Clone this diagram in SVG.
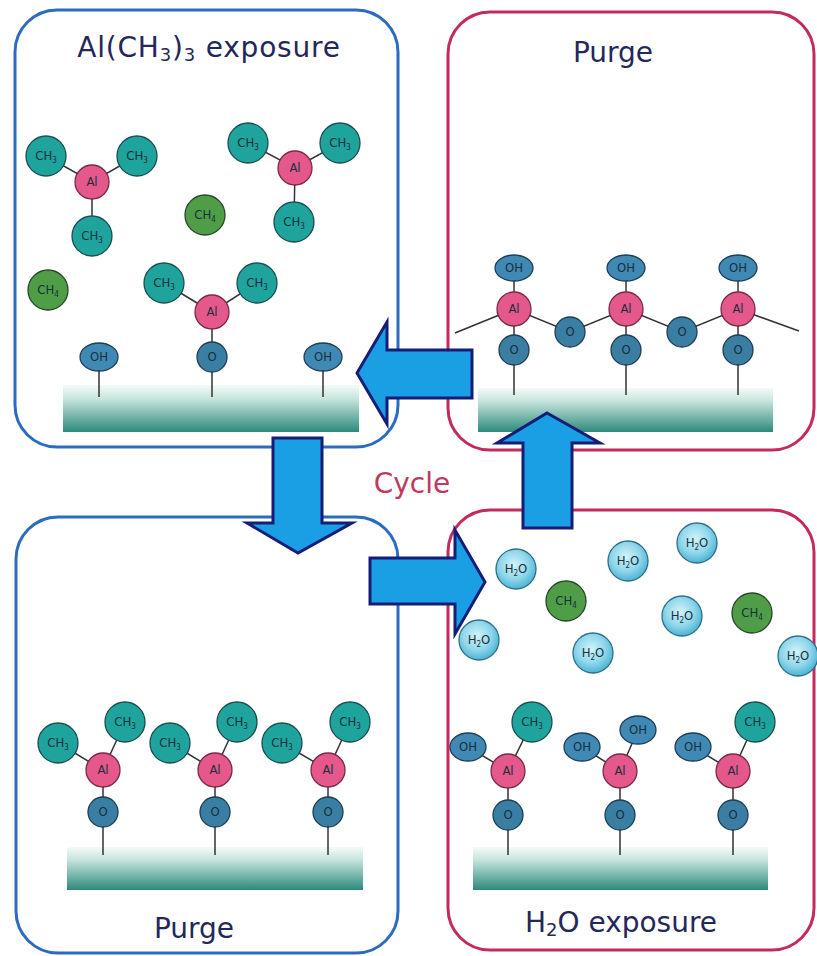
<svg xmlns="http://www.w3.org/2000/svg" width="817" height="956" viewBox="0 0 817 956">
  <defs>
    <linearGradient id="substrate" x1="0" y1="0" x2="0" y2="1">
      <stop offset="0" stop-color="#f4fbf8"/>
      <stop offset="0.3" stop-color="#c6e4dc"/>
      <stop offset="1" stop-color="#2c8a7c"/>
    </linearGradient>
    <radialGradient id="water" cx="0.45" cy="0.4" r="0.6">
      <stop offset="0" stop-color="#d2f4fb"/>
      <stop offset="0.6" stop-color="#8fd6ea"/>
      <stop offset="1" stop-color="#4bb4d2"/>
    </radialGradient>
    <style>
      .panel-b{fill:#fff;stroke:#2c6cc0;stroke-width:3}
      .panel-r{fill:#fff;stroke:#c42a5c;stroke-width:3}
      .title{font-family:"DejaVu Sans",sans-serif;font-size:28px;fill:#25275a;text-anchor:middle}
      .tsub{font-size:18px}
      .cycle{font-family:"DejaVu Sans",sans-serif;font-size:28px;fill:#c03a5e;text-anchor:middle}
      .sub-bar{fill:url(#substrate)}
      .ch3{fill:#1fa39d;stroke:#1b4d50;stroke-width:1.3}
      .al{fill:#e4588c;stroke:#7a2a48;stroke-width:1.3}
      .ch4{fill:#4f9d47;stroke:#26462a;stroke-width:1.3}
      .oh{fill:#4089b4;stroke:#1e3e58;stroke-width:1.3}
      .o{fill:#3a7fa3;stroke:#1e3c52;stroke-width:1.3}
      .h2o{fill:url(#water);stroke:#2c6f88;stroke-width:1.3}
      .bond{stroke:#333;stroke-width:1.5;fill:none}
      .lbl{font-family:"DejaVu Sans Condensed","DejaVu Sans",sans-serif;font-size:13px;fill:#17303c;text-anchor:middle}
      .s{font-size:8px}
      .arrow{fill:#1b9fe4;stroke:#161d78;stroke-width:3;stroke-linejoin:miter}
    </style>
  </defs>

  <!-- panel frames -->
  <g id="panel-tma">
    <rect class="panel-b" x="15" y="10" width="383" height="437" rx="42"/>
    <text class="title" x="209" y="57" letter-spacing="0.8">Al(CH<tspan class="tsub" dy="4">3</tspan><tspan dy="-4">)</tspan><tspan class="tsub" dy="4">3</tspan><tspan dy="-4"> exposure</tspan></text>
    <rect class="sub-bar" x="63" y="385" width="296" height="47"/>
  </g>
  <g id="panel-purge-top">
    <rect class="panel-r" x="448" y="12" width="366" height="438" rx="42"/>
    <text class="title" x="613" y="62">Purge</text>
    <rect class="sub-bar" x="478" y="388" width="295" height="44"/>
  </g>
  <g id="panel-purge-bottom">
    <rect class="panel-b" x="16" y="517" width="382" height="436" rx="42"/>
    <text class="title" x="194" y="938">Purge</text>
    <rect class="sub-bar" x="67" y="847" width="296" height="43"/>
  </g>
  <g id="panel-water">
    <rect class="panel-r" x="448" y="510" width="366" height="440" rx="42"/>
    <text class="title" x="621" y="932">H<tspan class="tsub" dy="4">2</tspan><tspan dy="-4">O exposure</tspan></text>
    <rect class="sub-bar" x="473" y="847" width="295" height="43"/>
  </g>

  <text id="cycle" class="cycle" x="412" y="493">Cycle</text>

  <!-- TMA exposure: gas-phase precursor, CH4 by-product, surface -->
  <g id="tma-gas-1">
    <path class="bond" d="M46,156 L92,182 L137,156 M92,182 L92,236"/>
    <circle class="ch3" cx="46" cy="156" r="20"/><text class="lbl" x="46" y="160">CH<tspan class="s" dy="3">3</tspan></text>
    <circle class="ch3" cx="137" cy="156" r="20"/><text class="lbl" x="137" y="160">CH<tspan class="s" dy="3">3</tspan></text>
    <circle class="ch3" cx="92" cy="236" r="20"/><text class="lbl" x="92" y="240">CH<tspan class="s" dy="3">3</tspan></text>
    <circle class="al" cx="92" cy="182" r="17"/><text class="lbl" x="92" y="186">Al</text>
  </g>
  <g id="tma-gas-2">
    <path class="bond" d="M248,143 L295,168 L340,143 M295,168 L294,222"/>
    <circle class="ch3" cx="248" cy="143" r="20"/><text class="lbl" x="248" y="147">CH<tspan class="s" dy="3">3</tspan></text>
    <circle class="ch3" cx="340" cy="143" r="20"/><text class="lbl" x="340" y="147">CH<tspan class="s" dy="3">3</tspan></text>
    <circle class="ch3" cx="294" cy="222" r="20"/><text class="lbl" x="294" y="226">CH<tspan class="s" dy="3">3</tspan></text>
    <circle class="al" cx="295" cy="168" r="17"/><text class="lbl" x="295" y="172">Al</text>
  </g>
  <g id="tma-ch4-1">
    <circle class="ch4" cx="205" cy="215" r="20"/><text class="lbl" x="205" y="219">CH<tspan class="s" dy="3">4</tspan></text>
  </g>
  <g id="tma-ch4-2">
    <circle class="ch4" cx="48" cy="290" r="20"/><text class="lbl" x="48" y="294">CH<tspan class="s" dy="3">4</tspan></text>
  </g>
  <g id="tma-surface">
    <path class="bond" d="M99,357 L99,397 M212,312 L212,397 M323,357 L323,397 M164,283 L212,312 L257,283"/>
    <ellipse class="oh" cx="99" cy="357" rx="19" ry="14"/><text class="lbl" x="99" y="361">OH</text>
    <circle class="ch3" cx="164" cy="283" r="20"/><text class="lbl" x="164" y="287">CH<tspan class="s" dy="3">3</tspan></text>
    <circle class="ch3" cx="257" cy="283" r="20"/><text class="lbl" x="257" y="287">CH<tspan class="s" dy="3">3</tspan></text>
    <circle class="al" cx="212" cy="312" r="17"/><text class="lbl" x="212" y="316">Al</text>
    <circle class="o" cx="212" cy="357" r="15"/><text class="lbl" x="212" y="361">O</text>
    <ellipse class="oh" cx="323" cy="357" rx="19" ry="14"/><text class="lbl" x="323" y="361">OH</text>
  </g>

  <!-- Purge after H2O: hydroxylated Al-O network -->
  <g id="alumina-layer">
    <path class="bond" d="M455,333 L514,309 L570,332 L626,309 L682,332 L738,309 L799,331"/>
    <path class="bond" d="M514,268 L514,395 M626,268 L626,395 M738,268 L738,395"/>
    <ellipse class="oh" cx="514" cy="268" rx="19" ry="13"/><text class="lbl" x="514" y="272">OH</text>
    <ellipse class="oh" cx="626" cy="268" rx="19" ry="13"/><text class="lbl" x="626" y="272">OH</text>
    <ellipse class="oh" cx="738" cy="268" rx="19" ry="13"/><text class="lbl" x="738" y="272">OH</text>
    <circle class="al" cx="514" cy="309" r="17"/><text class="lbl" x="514" y="313">Al</text>
    <circle class="al" cx="626" cy="309" r="17"/><text class="lbl" x="626" y="313">Al</text>
    <circle class="al" cx="738" cy="309" r="17"/><text class="lbl" x="738" y="313">Al</text>
    <circle class="o" cx="570" cy="332" r="15"/><text class="lbl" x="570" y="336">O</text>
    <circle class="o" cx="682" cy="332" r="15"/><text class="lbl" x="682" y="336">O</text>
    <circle class="o" cx="514" cy="350" r="15"/><text class="lbl" x="514" y="354">O</text>
    <circle class="o" cx="626" cy="350" r="15"/><text class="lbl" x="626" y="354">O</text>
    <circle class="o" cx="738" cy="350" r="15"/><text class="lbl" x="738" y="354">O</text>
  </g>

  <!-- Purge after TMA: methyl-terminated surface -->
  <g id="methyl-surface">
    <path class="bond" d="M103,770 L103,855 M58,743 L103,770 L125,722 M215,770 L215,855 M170,743 L215,770 L237,722 M328,770 L328,855 M282,743 L328,770 L350,722"/>
    <circle class="ch3" cx="58" cy="743" r="20"/><text class="lbl" x="58" y="747">CH<tspan class="s" dy="3">3</tspan></text>
    <circle class="ch3" cx="125" cy="722" r="20"/><text class="lbl" x="125" y="726">CH<tspan class="s" dy="3">3</tspan></text>
    <circle class="al" cx="103" cy="770" r="17"/><text class="lbl" x="103" y="774">Al</text>
    <circle class="o" cx="103" cy="812" r="15"/><text class="lbl" x="103" y="816">O</text>
    <circle class="ch3" cx="170" cy="743" r="20"/><text class="lbl" x="170" y="747">CH<tspan class="s" dy="3">3</tspan></text>
    <circle class="ch3" cx="237" cy="722" r="20"/><text class="lbl" x="237" y="726">CH<tspan class="s" dy="3">3</tspan></text>
    <circle class="al" cx="215" cy="770" r="17"/><text class="lbl" x="215" y="774">Al</text>
    <circle class="o" cx="215" cy="812" r="15"/><text class="lbl" x="215" y="816">O</text>
    <circle class="ch3" cx="282" cy="743" r="20"/><text class="lbl" x="282" y="747">CH<tspan class="s" dy="3">3</tspan></text>
    <circle class="ch3" cx="350" cy="722" r="20"/><text class="lbl" x="350" y="726">CH<tspan class="s" dy="3">3</tspan></text>
    <circle class="al" cx="328" cy="770" r="17"/><text class="lbl" x="328" y="774">Al</text>
    <circle class="o" cx="328" cy="812" r="15"/><text class="lbl" x="328" y="816">O</text>
  </g>

  <!-- H2O exposure: water vapour, CH4 by-product, partly hydroxylated surface -->
  <g id="water-gas">
    <circle class="h2o" cx="516" cy="569" r="20"/><text class="lbl" x="516" y="573">H<tspan class="s" dy="3">2</tspan><tspan dy="-3">O</tspan></text>
    <circle class="h2o" cx="479" cy="640" r="20"/><text class="lbl" x="479" y="644">H<tspan class="s" dy="3">2</tspan><tspan dy="-3">O</tspan></text>
    <circle class="h2o" cx="628" cy="561" r="20"/><text class="lbl" x="628" y="565">H<tspan class="s" dy="3">2</tspan><tspan dy="-3">O</tspan></text>
    <circle class="h2o" cx="697" cy="543" r="20"/><text class="lbl" x="697" y="547">H<tspan class="s" dy="3">2</tspan><tspan dy="-3">O</tspan></text>
    <circle class="h2o" cx="682" cy="616" r="20"/><text class="lbl" x="682" y="620">H<tspan class="s" dy="3">2</tspan><tspan dy="-3">O</tspan></text>
    <circle class="h2o" cx="593" cy="653" r="20"/><text class="lbl" x="593" y="657">H<tspan class="s" dy="3">2</tspan><tspan dy="-3">O</tspan></text>
    <circle class="h2o" cx="798" cy="656" r="20"/><text class="lbl" x="798" y="660">H<tspan class="s" dy="3">2</tspan><tspan dy="-3">O</tspan></text>
    <circle class="ch4" cx="566" cy="601" r="20"/><text class="lbl" x="566" y="605">CH<tspan class="s" dy="3">4</tspan></text>
    <circle class="ch4" cx="752" cy="613" r="20"/><text class="lbl" x="752" y="617">CH<tspan class="s" dy="3">4</tspan></text>
  </g>
  <g id="hydroxyl-surface">
    <path class="bond" d="M508,771 L508,855 M468,747 L508,771 L532,722 M620,771 L620,855 M582,747 L620,771 L638,730 M733,771 L733,855 M693,747 L733,771 L755,722"/>
    <ellipse class="oh" cx="468" cy="747" rx="18" ry="14"/><text class="lbl" x="468" y="751">OH</text>
    <circle class="ch3" cx="532" cy="722" r="20"/><text class="lbl" x="532" y="726">CH<tspan class="s" dy="3">3</tspan></text>
    <circle class="al" cx="508" cy="771" r="17"/><text class="lbl" x="508" y="775">Al</text>
    <circle class="o" cx="508" cy="815" r="15"/><text class="lbl" x="508" y="819">O</text>
    <ellipse class="oh" cx="582" cy="747" rx="18" ry="14"/><text class="lbl" x="582" y="751">OH</text>
    <ellipse class="oh" cx="638" cy="730" rx="18" ry="14"/><text class="lbl" x="638" y="734">OH</text>
    <circle class="al" cx="620" cy="771" r="17"/><text class="lbl" x="620" y="775">Al</text>
    <circle class="o" cx="620" cy="815" r="15"/><text class="lbl" x="620" y="819">O</text>
    <ellipse class="oh" cx="693" cy="747" rx="18" ry="14"/><text class="lbl" x="693" y="751">OH</text>
    <circle class="ch3" cx="755" cy="722" r="20"/><text class="lbl" x="755" y="726">CH<tspan class="s" dy="3">3</tspan></text>
    <circle class="al" cx="733" cy="771" r="17"/><text class="lbl" x="733" y="775">Al</text>
    <circle class="o" cx="733" cy="815" r="15"/><text class="lbl" x="733" y="819">O</text>
  </g>

  <!-- cycle arrows between the four stages -->
  <g id="connectors">
    <path id="arrow-to-tma" class="arrow" d="M357,373 L387,322 L387,350 L472,350 L472,398 L387,398 L387,424 Z"/>
    <path id="arrow-to-purge1" class="arrow" d="M273,438 L322,438 L322,523 L352,523 L298,553 L247,523 L273,523 Z"/>
    <path id="arrow-to-water" class="arrow" d="M370,558 L455,558 L455,530 L485,582 L455,634 L455,604 L370,604 Z"/>
    <path id="arrow-to-purge2" class="arrow" d="M547,413 L600,443 L572,443 L572,528 L523,528 L523,443 L497,443 Z"/>
  </g>
</svg>
